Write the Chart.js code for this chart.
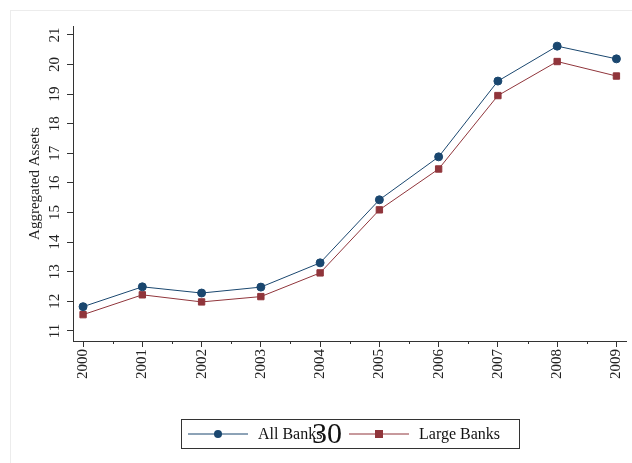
<!DOCTYPE html>
<html lang="en">
<head>
    <meta charset="UTF-8">
    <title>Aggregated Assets</title>
    <script src="https://cdn.jsdelivr.net/npm/chart.js"></script>
    <style>
        body { margin: 0; background: #fff; overflow: hidden; }
        .frame { position: absolute; left: 10px; top: 10px; width: 640px; height: 470px; border-left: 1px solid #ececec; border-top: 1px solid #ececec; }
        .chart-container { position: absolute; left: 0; top: 0; width: 632px; height: 463px; }
    </style>
</head>
<body>
    <div class="frame"></div>
    <div class="chart-container"><canvas id="assetsChart" width="632" height="463"></canvas></div>

    <script>
        var years = [2000, 2001, 2002, 2003, 2004, 2005, 2006, 2007, 2008, 2009];
        var allBanks = [11.82, 12.49, 12.28, 12.48, 13.30, 15.43, 16.88, 19.44, 20.62, 20.19];
        var largeBanks = [11.55, 12.22, 11.98, 12.16, 12.96, 15.09, 16.47, 18.95, 20.10, 19.61];
        var yTicks = [11, 12, 13, 14, 15, 16, 17, 18, 19, 20, 21];
        var yTitle = 'Aggregated Assets';
        var pageNumber = '30';

        var serif = '"Liberation Serif", "DejaVu Serif", serif';
        var blue = '#1a476f';
        var red = '#90353b';

        function toPoints(vals) {
            return years.map(function (y, i) { return { x: y, y: vals[i] }; });
        }

        // rotated y labels + title, minor x ticks, legend box and the stray page number
        var extras = {
            id: 'extras',
            afterDraw: function (chart) {
                var ctx = chart.ctx;
                var ys = chart.scales.y, xs = chart.scales.x;
                var area = chart.chartArea;
                ctx.save();
                ctx.fillStyle = '#222';
                ctx.font = '15px ' + serif;
                ctx.textAlign = 'center';
                ctx.textBaseline = 'bottom';
                yTicks.forEach(function (v) {
                    var py = ys.getPixelForValue(v);
                    ctx.save();
                    ctx.translate(63, py);
                    ctx.rotate(-Math.PI / 2);
                    ctx.fillText(String(v), 0, 0);
                    ctx.restore();
                });
                ctx.save();
                ctx.translate(43, (area.top + area.bottom) / 2);
                ctx.rotate(-Math.PI / 2);
                ctx.fillText(yTitle, 0, 0);
                ctx.restore();
                // minor ticks between years
                ctx.strokeStyle = '#333';
                ctx.lineWidth = 1;
                for (var i = 0; i < years.length; i++) {
                    var px = Math.round(xs.getPixelForValue(years[i] + 0.5)) + 0.5;
                    if (px > area.right) break;
                    ctx.beginPath();
                    ctx.moveTo(px, area.bottom);
                    ctx.lineTo(px, area.bottom + 3);
                    ctx.stroke();
                }
                // legend
                var bx = 181, by = 419, bw = 338, bh = 29;
                ctx.strokeStyle = '#333';
                ctx.strokeRect(bx + 0.5, by + 0.5, bw, bh);
                var cy = by + bh / 2 + 0.5;
                var items = [
                    { ds: chart.data.datasets[0], x: 188, style: 'circle' },
                    { ds: chart.data.datasets[1], x: 349, style: 'rect' }
                ];
                items.forEach(function (it) {
                    ctx.strokeStyle = it.ds.borderColor;
                    ctx.lineWidth = 1;
                    ctx.beginPath();
                    ctx.moveTo(it.x, cy);
                    ctx.lineTo(it.x + 60, cy);
                    ctx.stroke();
                    ctx.fillStyle = it.ds.borderColor;
                    if (it.style === 'circle') {
                        ctx.beginPath();
                        ctx.arc(it.x + 30, cy, 4, 0, Math.PI * 2);
                        ctx.fill();
                    } else {
                        ctx.fillRect(it.x + 26, cy - 4, 8, 8);
                    }
                    ctx.fillStyle = '#111';
                    ctx.font = '16px ' + serif;
                    ctx.textAlign = 'left';
                    ctx.textBaseline = 'middle';
                    ctx.fillText(it.ds.label, it.x + 70, cy + 1);
                });
                ctx.font = '30px ' + serif;
                ctx.textAlign = 'center';
                ctx.fillStyle = '#111';
                ctx.fillText(pageNumber, 327, cy + 1);
                ctx.restore();
            }
        };

        var ctx = document.getElementById('assetsChart').getContext('2d');
        var assetsChart = new Chart(ctx, {
            type: 'line',
            data: {
                datasets: [{
                    label: 'All Banks',
                    data: toPoints(allBanks),
                    borderColor: blue,
                    backgroundColor: blue,
                    borderWidth: 1,
                    pointStyle: 'circle',
                    pointRadius: 4,
                    tension: 0
                }, {
                    label: 'Large Banks',
                    data: toPoints(largeBanks),
                    borderColor: red,
                    backgroundColor: red,
                    borderWidth: 1,
                    pointStyle: 'rect',
                    pointRadius: 4.5,
                    tension: 0
                }]
            },
            options: {
                responsive: false,
                animation: false,
                devicePixelRatio: 1,
                layout: { padding: { top: 26, right: 5, left: 0, bottom: 0 } },
                plugins: { legend: { display: false }, tooltip: { enabled: false } },
                scales: {
                    x: {
                        type: 'linear',
                        min: 1999.83,
                        max: 2009.17,
                        afterBuildTicks: function (axis) {
                            axis.ticks = years.map(function (y) { return { value: y }; });
                        },
                        afterFit: function (axis) {
                            axis.height = 122;
                            axis.paddingLeft = 0;
                            axis.paddingRight = 0;
                        },
                        border: { display: true, color: '#333', width: 1 },
                        grid: { drawOnChartArea: false, drawTicks: true, tickLength: 6, color: '#333' },
                        ticks: {
                            color: '#222',
                            font: { family: serif, size: 15 },
                            minRotation: 90,
                            maxRotation: 90,
                            padding: 2,
                            callback: function (v) { return String(v); }
                        }
                    },
                    y: {
                        min: 10.66,
                        max: 21.3,
                        afterBuildTicks: function (axis) {
                            axis.ticks = yTicks.map(function (v) { return { value: v }; });
                        },
                        afterFit: function (axis) {
                            axis.width = 73;
                            axis.paddingTop = 0;
                            axis.paddingBottom = 0;
                        },
                        border: { display: true, color: '#333', width: 1 },
                        grid: { drawOnChartArea: false, drawTicks: true, tickLength: 6, color: '#333' },
                        ticks: { display: false }
                    }
                }
            },
            plugins: [extras]
        });
    </script>
</body>
</html>
